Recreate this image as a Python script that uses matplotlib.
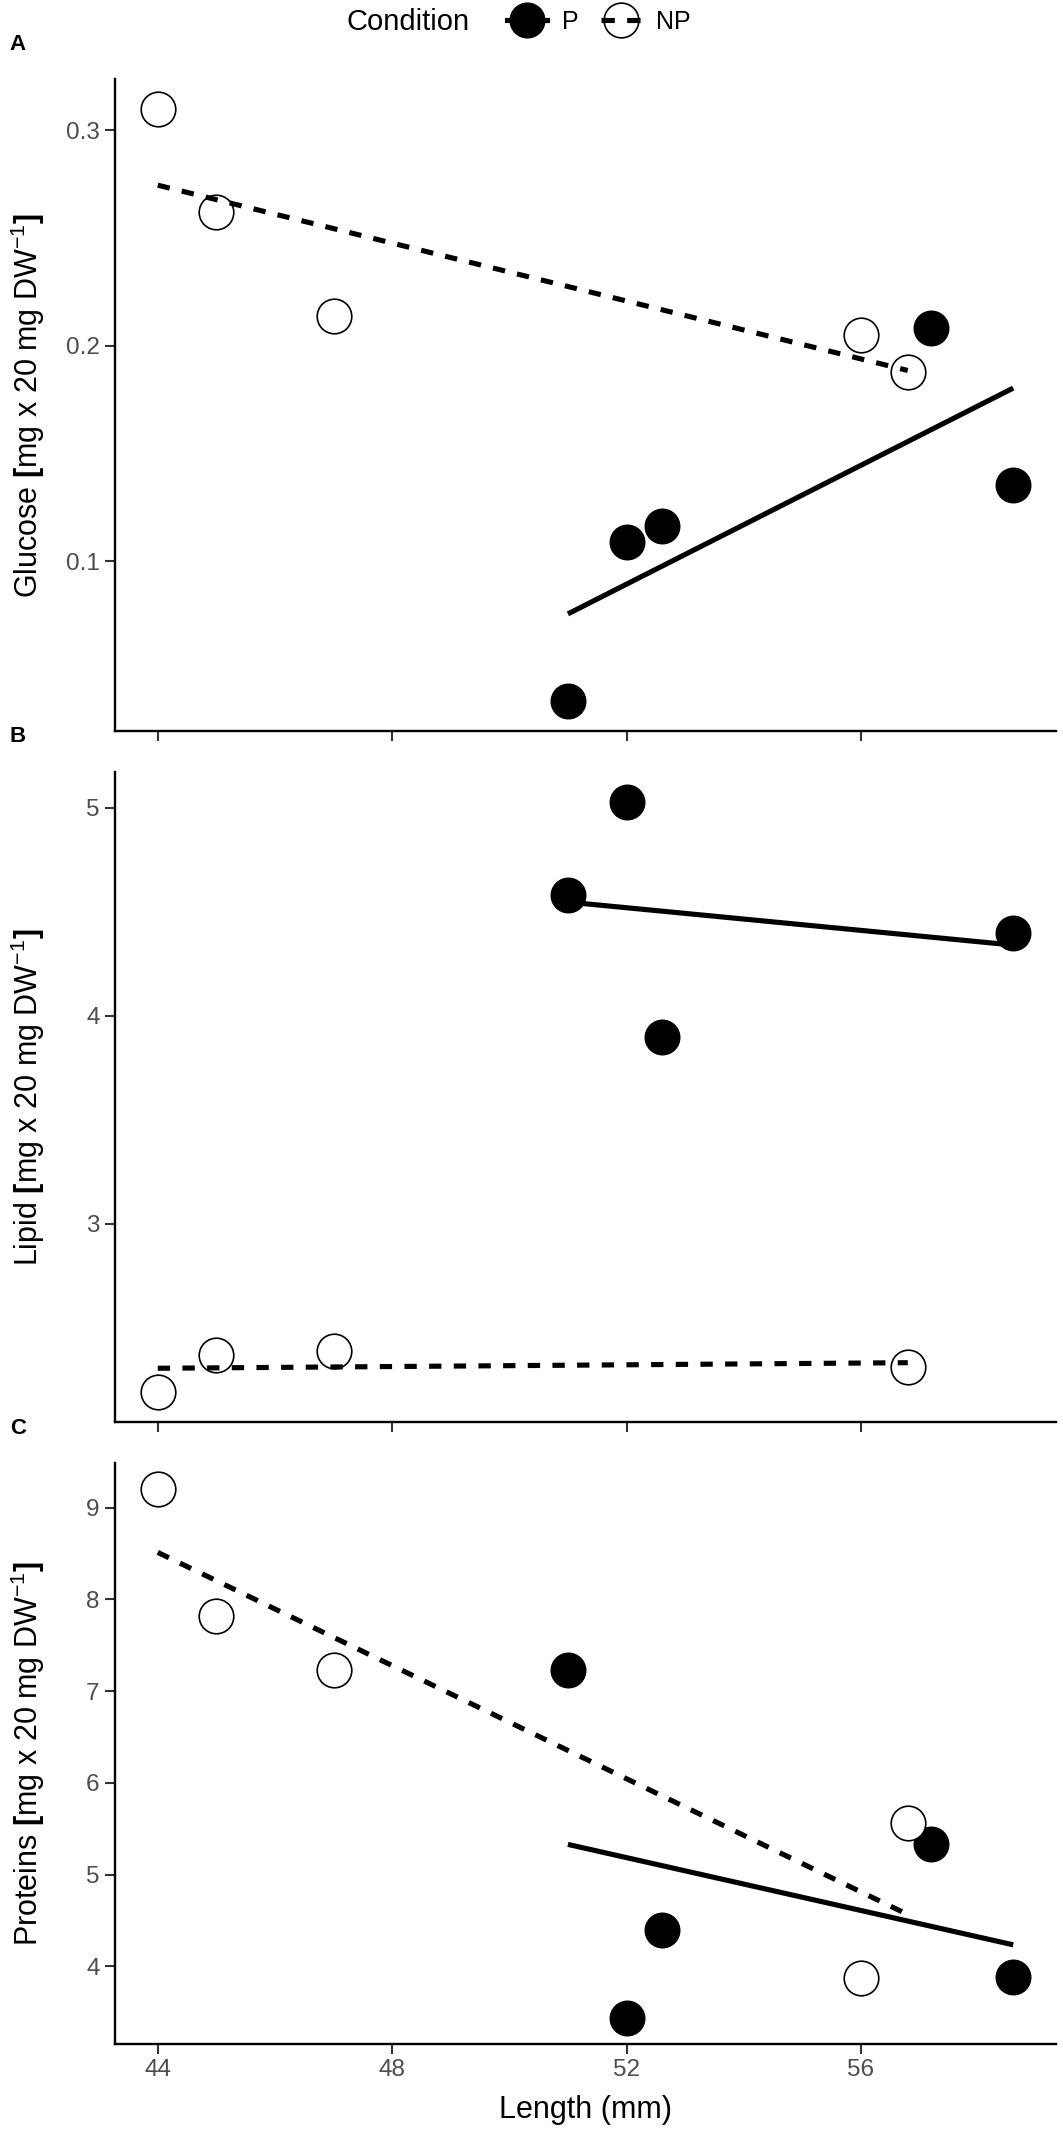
import numpy as np
import matplotlib
matplotlib.use("Agg")
import matplotlib.pyplot as plt
from matplotlib.lines import Line2D
from matplotlib.legend_handler import HandlerTuple

plt.rcParams['font.family'] = ['Liberation Sans', 'DejaVu Sans']
plt.rcParams['mathtext.fontset'] = 'custom'
plt.rcParams['mathtext.rm'] = 'Liberation Sans'
plt.rcParams['mathtext.bf'] = 'Liberation Sans:bold'

# Glucose (panel A)
glu_p_x = [51.0, 52.0, 52.6, 57.2, 58.6]
glu_p_y = [0.035, 0.109, 0.1165, 0.208, 0.1355]
glu_np_x = [44.0, 45.0, 47.0, 56.0, 56.8]
glu_np_y = [0.310, 0.262, 0.214, 0.205, 0.188]

# Lipid (panel B)
lip_p_x = [51.0, 52.0, 52.6, 58.6]
lip_p_y = [4.58, 5.03, 3.90, 4.40]
lip_np_x = [44.0, 45.0, 47.0, 56.8]
lip_np_y = [2.19, 2.37, 2.39, 2.31]

# Proteins (panel C)
pro_p_x = [51.0, 52.0, 52.6, 57.2, 58.6]
pro_p_y = [7.23, 3.44, 4.40, 5.33, 3.88]
pro_np_x = [44.0, 45.0, 47.0, 56.0, 56.8]
pro_np_y = [9.20, 7.82, 7.23, 3.87, 5.56]

x_ticks = [44, 48, 52, 56]
panels = [
    ("A", "Glucose", glu_p_x, glu_p_y, glu_np_x, glu_np_y, [0.1, 0.2, 0.3], ["0.1", "0.2", "0.3"]),
    ("B", "Lipid", lip_p_x, lip_p_y, lip_np_x, lip_np_y, [3, 4, 5], ["3", "4", "5"]),
    ("C", "Proteins", pro_p_x, pro_p_y, pro_np_x, pro_np_y, [4, 5, 6, 7, 8, 9], ["4", "5", "6", "7", "8", "9"]),
]

W, H = 1063, 2136
fig = plt.figure(figsize=(W / 100, H / 100), dpi=100)

# axes boxes in pixels: (top, bottom)
boxes = [(79, 731), (772, 1422), (1463, 2044)]
left_px, right_px = 115, 1056

all_x = glu_p_x + glu_np_x
xpad = 0.05 * (max(all_x) - min(all_x))
xlim = (min(all_x) - xpad, max(all_x) + xpad)

lw_line = 3.7
tick_col = '#4D4D4D'
dash = (0, (2.4, 2.4))

for (letter, name, px, py, nx, ny, yt, ytl), (top, bot) in zip(panels, boxes):
    ax = fig.add_axes([left_px / W, 1 - bot / H, (right_px - left_px) / W, (bot - top) / H])
    ax.scatter(px, py, s=620, color='black', edgecolors='black', linewidths=1, zorder=2)
    ax.scatter(nx, ny, s=620, color='white', edgecolors='black', linewidths=1.2, zorder=2)

    for xs, ys, ls in [(px, py, '-'), (nx, ny, dash)]:
        k, b = np.polyfit(xs, ys, 1)
        xx = np.array([min(xs), max(xs)])
        ax.plot(xx, k * xx + b, color='black', lw=lw_line, linestyle=ls, zorder=3,
                solid_capstyle='butt', dash_capstyle='butt')

    vals = py + ny
    ypad = 0.05 * (max(vals) - min(vals))
    ax.set_ylim(min(vals) - ypad, max(vals) + ypad)
    ax.set_xlim(*xlim)
    ax.set_yticks(yt)
    ax.set_yticklabels(ytl)
    ax.set_xticks(x_ticks)
    if letter == "C":
        ax.set_xticklabels([str(t) for t in x_ticks])
        ax.set_xlabel("Length (mm)", fontsize=22, labelpad=10)
    else:
        ax.set_xticklabels([])

    for s in ['top', 'right']:
        ax.spines[s].set_visible(False)
    for s in ['left', 'bottom']:
        ax.spines[s].set_linewidth(1.7)
    ax.tick_params(axis='both', length=7, width=1.5, color='#333333',
                   labelsize=17.5, labelcolor=tick_col, pad=4)

    ax.set_ylabel(name + " " + r"$\mathbf{[}$" + "mg x 20 mg DW" + r"$^{-1}$" + r"$\mathbf{]}$",
                  fontsize=22)
    ax.yaxis.set_label_coords(-0.072, 0.5)

    fig.text(18 / W, 1 - (top - 35) / H, letter, fontsize=16, fontweight='bold',
             ha='center', va='center')

# legend
fig.text(347 / W, 1 - 22 / H, "Condition", fontsize=21, ha='left', va='center')
p_pt = Line2D([], [], marker='o', markersize=25, markerfacecolor='black',
              markeredgecolor='black', linestyle='none')
p_ln = Line2D([], [], color='black', lw=lw_line, linestyle='-')
np_pt = Line2D([], [], marker='o', markersize=25, markerfacecolor='white',
               markeredgecolor='black', markeredgewidth=1.2, linestyle='none')
np_ln = Line2D([], [], color='black', lw=lw_line, linestyle=(0, (2.6, 2.4)))
fig.legend(handles=[(p_pt, p_ln), (np_pt, np_ln)], labels=["P", "NP"],
           handler_map={tuple: HandlerTuple(ndivide=1)},
           ncol=2, loc='center left', bbox_to_anchor=(507 / W, 1 - 22 / H),
           frameon=False, fontsize=18, borderpad=0, borderaxespad=0,
           handlelength=1.6, handletextpad=0.6, columnspacing=0.9)

fig.savefig("out.png", dpi=100)
